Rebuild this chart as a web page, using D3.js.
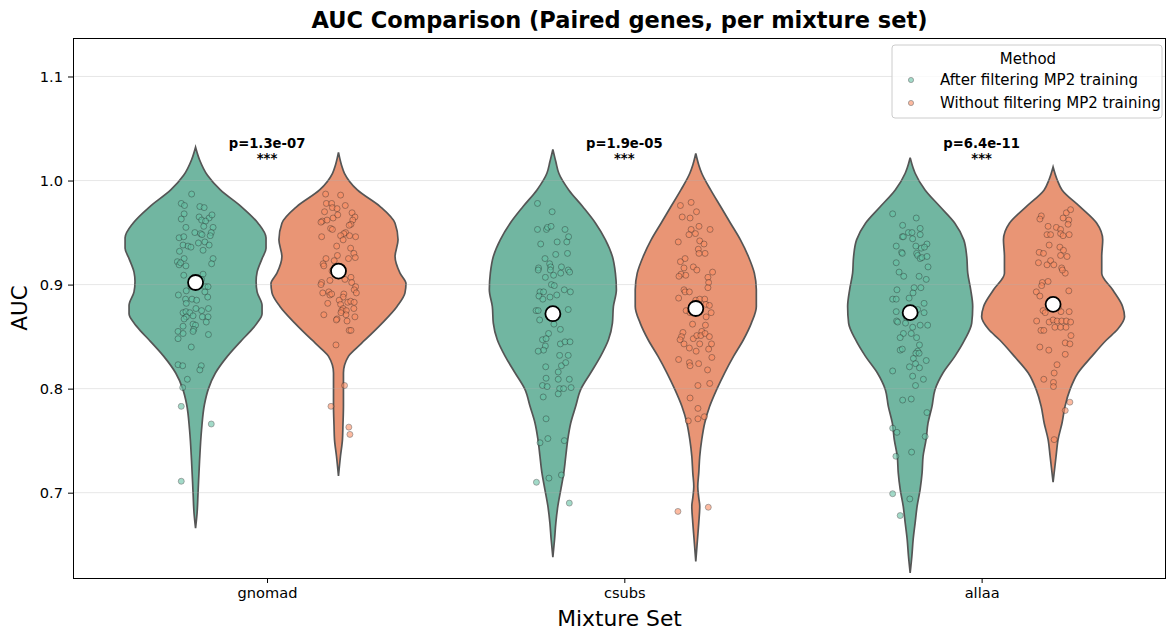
<!DOCTYPE html>
<html lang="en">
<head>
<meta charset="UTF-8">
<title>AUC Comparison</title>
<script src="https://d3js.org/d3.v7.min.js"></script>
<style>
    body { margin: 0; background: #fff; }
    svg { font-family: "DejaVu Sans", sans-serif; }
</style>
</head>
<body>
<script>
// categories, methods and labels
const categories = ["gnomad", "csubs", "allaa"];
const methods = ["After filtering MP2 training", "Without filtering MP2 training"];
const pLabels = ["p=1.3e-07", "p=1.9e-05", "p=6.4e-11"];
const sigStars = ["***", "***", "***"];
const yTicks = [0.7, 0.8, 0.9, 1.0, 1.1];

// white markers (median AUC)
const medianAfter = [0.902, 0.872, 0.873];
const medianWithout = [0.913, 0.877, 0.881];

// violin density profiles: [AUC, relative density]
const profGnomadAfter = [[1.032,0],[1.02,4],[1.005,12],[0.991,25],[0.975,46],[0.959,63],[0.945,71],[0.935,71],[0.925,67],[0.912,62],[0.903,61],[0.893,62],[0.88,67],[0.872,67],[0.863,62],[0.855,55],[0.847,47],[0.831,32],[0.815,20],[0.80,13],[0.785,9],[0.76,6],[0.73,4],[0.70,2.5],[0.68,1.5],[0.666,0]];
const profGnomadWithout = [[1.027,0],[1.015,3],[1.007,6],[0.991,19],[0.975,42],[0.959,57],[0.943,60],[0.927,57],[0.911,62],[0.901,68],[0.892,67],[0.879,59],[0.863,44],[0.847,27],[0.838,17],[0.831,10],[0.815,5],[0.80,5],[0.783,5],[0.765,4.5],[0.751,4],[0.735,2],[0.716,0]];
const profCsubsAfter = [[1.030,0],[1.018,3],[1.007,6],[0.991,16],[0.975,30],[0.959,43],[0.943,53],[0.927,60],[0.911,63],[0.895,64],[0.879,61],[0.863,60],[0.847,56],[0.831,48],[0.815,38],[0.799,28],[0.783,23],[0.767,18],[0.751,15],[0.735,13],[0.719,11],[0.703,8],[0.687,5],[0.671,3],[0.655,1.7],[0.638,0]];
const profCsubsWithout = [[1.026,0],[1.015,3],[1.007,6],[0.991,15],[0.975,25],[0.959,35],[0.943,45],[0.927,53],[0.911,59],[0.895,61],[0.879,61],[0.863,56],[0.847,48],[0.831,38],[0.815,29],[0.799,21],[0.783,14],[0.767,9],[0.751,6],[0.735,4],[0.719,3],[0.706,2],[0.695,3],[0.687,4],[0.671,3],[0.655,1.7],[0.634,0]];
const profAllaaAfter = [[1.022,0],[1.012,3],[1.007,5],[0.991,15],[0.975,30],[0.959,45],[0.943,54],[0.927,57],[0.911,58],[0.895,61],[0.879,63],[0.863,62],[0.847,55],[0.831,45],[0.815,33],[0.799,25],[0.783,22],[0.767,18],[0.751,16],[0.735,13],[0.719,12],[0.703,10],[0.687,7],[0.671,5],[0.655,3],[0.639,1.7],[0.623,0]];
const profAllaaWithout = [[1.013,0],[1.001,4],[0.991,9],[0.975,27],[0.959,44],[0.943,50],[0.927,49],[0.911,49],[0.895,60],[0.879,70],[0.869,72],[0.857,65],[0.847,54],[0.831,39],[0.815,25],[0.799,17],[0.783,12],[0.767,9],[0.751,5],[0.735,3],[0.710,0]];

// gene points: [jitter, AUC]
const ptsGnomadAfter = [[-0.011,0.987],[-0.040,0.978],[-0.031,0.976],[0.012,0.975],[0.024,0.974],[-0.032,0.968],[-0.040,0.963],[0.010,0.965],[0.038,0.964],[0.046,0.967],[0.017,0.962],[0.028,0.961],[0.023,0.956],[0.049,0.955],[-0.027,0.955],[-0.002,0.950],[0.014,0.949],[0.018,0.948],[0.044,0.950],[0.041,0.947],[-0.046,0.945],[-0.033,0.946],[0.008,0.940],[0.026,0.941],[0.038,0.938],[-0.035,0.938],[-0.021,0.937],[-0.013,0.936],[0.021,0.933],[-0.045,0.932],[-0.032,0.925],[-0.051,0.922],[-0.046,0.919],[-0.027,0.918],[-0.042,0.921],[0.049,0.925],[0.045,0.920],[-0.033,0.909],[0.021,0.910],[0.017,0.905],[-0.048,0.890],[-0.026,0.894],[-0.013,0.898],[0.027,0.898],[0.035,0.898],[0.026,0.893],[0.034,0.888],[-0.010,0.886],[-0.028,0.886],[-0.026,0.882],[0.003,0.885],[0.001,0.877],[0.036,0.877],[0.017,0.875],[-0.035,0.873],[-0.027,0.874],[-0.016,0.873],[-0.026,0.869],[-0.032,0.867],[-0.007,0.870],[0.019,0.869],[0.035,0.869],[0.030,0.864],[-0.007,0.862],[0,0.861],[-0.035,0.860],[-0.005,0.857],[-0.007,0.855],[-0.049,0.855],[-0.035,0.853],[-0.049,0.848],[0.036,0.852],[-0.012,0.840],[-0.049,0.823],[-0.036,0.822],[0.016,0.822],[0.012,0.818],[-0.023,0.809],[-0.036,0.801],[-0.040,0.783],[0.044,0.766],[-0.040,0.711]];
const ptsGnomadWithout = [[-0.036,0.987],[0.006,0.986],[-0.034,0.978],[-0.019,0.978],[0.019,0.976],[-0.017,0.974],[-0.004,0.973],[-0.039,0.970],[0.038,0.969],[-0.015,0.964],[-0.002,0.967],[-0.045,0.961],[-0.032,0.962],[-0.049,0.960],[0.046,0.965],[0.040,0.962],[0.035,0.958],[0.030,0.957],[-0.022,0.954],[-0.017,0.953],[0.020,0.950],[0.015,0.949],[0.006,0.947],[-0.047,0.946],[0.031,0.947],[0.048,0.946],[0.013,0.943],[-0.005,0.937],[0.034,0.935],[0.043,0.930],[0.047,0.926],[0.028,0.925],[-0.035,0.925],[-0.043,0.920],[-0.041,0.918],[-0.003,0.928],[-0.012,0.923],[-0.018,0.913],[0.006,0.914],[0.035,0.907],[0.018,0.905],[-0.047,0.902],[-0.049,0.900],[-0.024,0.904],[0.037,0.902],[0.048,0.898],[0.044,0.895],[0.050,0.892],[-0.044,0.892],[-0.027,0.893],[-0.024,0.890],[-0.019,0.891],[0.015,0.891],[0.013,0.888],[0.002,0.885],[0.026,0.883],[0.034,0.884],[0.044,0.883],[-0.030,0.882],[0.006,0.881],[0.013,0.877],[0.009,0.875],[0.022,0.875],[0.043,0.877],[-0.041,0.871],[0.021,0.871],[0.007,0.873],[0.046,0.869],[-0.004,0.867],[0.024,0.865],[-0.006,0.866],[0.030,0.856],[0.035,0.856],[-0.007,0.842],[0.017,0.803],[-0.021,0.783],[0.029,0.763],[0.032,0.756]];
const ptsCsubsAfter = [[-0.043,0.978],[-0.002,0.970],[-0.043,0.953],[-0.018,0.953],[-0.015,0.955],[-0.005,0.956],[0.034,0.953],[0.044,0.946],[0.012,0.941],[0.039,0.941],[-0.034,0.939],[-0.022,0.925],[0.008,0.929],[0.041,0.930],[-0.009,0.920],[-0.006,0.917],[0.024,0.917],[-0.040,0.916],[-0.041,0.914],[-0.007,0.914],[0.002,0.909],[0.022,0.911],[0.043,0.914],[0.047,0.912],[-0.021,0.907],[-0.004,0.900],[0.004,0.899],[0.032,0.895],[0.049,0.893],[-0.036,0.893],[-0.026,0.893],[-0.039,0.889],[-0.028,0.886],[-0.008,0.888],[0.011,0.890],[-0.047,0.875],[-0.041,0.875],[-0.037,0.866],[-0.010,0.873],[0.014,0.871],[0.003,0.862],[0.021,0.857],[0.043,0.876],[-0.012,0.853],[-0.029,0.847],[-0.019,0.848],[-0.021,0.841],[-0.026,0.837],[-0.041,0.836],[0.021,0.843],[0.034,0.845],[0.048,0.845],[0.019,0.832],[0.043,0.832],[0.024,0.822],[0.036,0.825],[-0.020,0.821],[0.015,0.816],[-0.019,0.810],[0.046,0.809],[0.015,0.809],[-0.029,0.803],[-0.016,0.802],[0.019,0.800],[0.030,0.800],[0.051,0.801],[0.015,0.795],[-0.027,0.792],[-0.019,0.771],[-0.036,0.748],[-0.014,0.752],[0.032,0.750],[-0.046,0.710],[-0.011,0.714],[0.024,0.717],[0.046,0.690]];
const ptsCsubsWithout = [[-0.043,0.976],[-0.013,0.979],[0.002,0.970],[-0.038,0.965],[-0.016,0.964],[0.009,0.956],[0.040,0.953],[-0.013,0.953],[-0.019,0.948],[-0.001,0.949],[0.011,0.942],[0.023,0.939],[-0.049,0.941],[0.007,0.934],[0.026,0.930],[0.009,0.930],[-0.030,0.925],[-0.043,0.922],[-0.007,0.917],[0.003,0.914],[-0.033,0.916],[0.047,0.912],[-0.041,0.910],[-0.047,0.908],[-0.028,0.909],[0.034,0.907],[0.036,0.902],[0.034,0.897],[-0.033,0.895],[-0.030,0.893],[-0.048,0.887],[-0.018,0.893],[0,0.885],[0.011,0.886],[0.025,0.886],[0.028,0.881],[0.038,0.880],[0.043,0.873],[-0.027,0.875],[-0.016,0.873],[0.029,0.869],[-0.009,0.862],[0.027,0.861],[0.017,0.855],[-0.036,0.854],[-0.040,0.850],[-0.044,0.847],[-0.033,0.843],[-0.007,0.848],[0.003,0.851],[0.014,0.851],[0.026,0.853],[0.038,0.850],[0.044,0.843],[-0.018,0.839],[0.001,0.836],[0.011,0.843],[0.036,0.838],[0.045,0.830],[-0.048,0.828],[-0.018,0.825],[0.008,0.824],[-0.016,0.822],[0.033,0.818],[0.039,0.805],[0.006,0.803],[-0.016,0.791],[0.006,0.781],[0.024,0.773],[0.006,0.771],[-0.021,0.769],[-0.050,0.682],[0.035,0.686]];
const ptsAllaaAfter = [[-0.049,0.968],[0.017,0.964],[-0.021,0.957],[0.028,0.954],[-0.005,0.950],[0.005,0.950],[-0.022,0.946],[-0.019,0.946],[0.007,0.944],[0.028,0.948],[-0.039,0.937],[-0.024,0.931],[-0.022,0.930],[0.016,0.937],[0.031,0.935],[0.047,0.939],[0.040,0.936],[0.018,0.930],[0.021,0.928],[0.028,0.925],[0.033,0.926],[0.047,0.927],[-0.039,0.921],[-0.031,0.912],[-0.018,0.908],[0.025,0.908],[0.050,0.917],[0.045,0.905],[0.011,0.897],[0.030,0.897],[0.008,0.892],[-0.003,0.887],[-0.037,0.895],[-0.049,0.886],[-0.039,0.886],[0.039,0.882],[-0.039,0.874],[0.021,0.876],[0.039,0.873],[-0.038,0.865],[-0.035,0.864],[-0.010,0.868],[-0.013,0.863],[0.028,0.861],[0.049,0.861],[0.007,0.859],[-0.019,0.853],[0.003,0.853],[0.018,0.849],[-0.028,0.849],[0.026,0.842],[0.021,0.836],[0.016,0.834],[0.025,0.834],[-0.028,0.837],[-0.022,0.838],[0.009,0.829],[0.045,0.827],[0.015,0.824],[-0.002,0.821],[0.026,0.820],[-0.049,0.817],[0.007,0.812],[0.037,0.809],[0.015,0.803],[-0.021,0.789],[0.003,0.790],[0.047,0.777],[-0.049,0.762],[-0.037,0.758],[0.042,0.754],[0.004,0.739],[-0.040,0.735],[-0.049,0.699],[-0.001,0.694],[-0.028,0.678]];
const ptsAllaaWithout = [[-0.033,0.966],[-0.037,0.963],[0.037,0.969],[0.049,0.972],[0.028,0.964],[0.044,0.962],[0.042,0.958],[-0.014,0.956],[0.009,0.955],[0.021,0.953],[-0.017,0.948],[-0.007,0.948],[0.021,0.949],[0.028,0.947],[0.045,0.948],[-0.011,0.938],[0.019,0.936],[0.029,0.933],[-0.039,0.931],[-0.027,0.930],[0.021,0.928],[0.039,0.927],[-0.041,0.921],[-0.017,0.919],[-0.007,0.923],[0.002,0.919],[0.024,0.916],[0.034,0.911],[0.026,0.914],[-0.030,0.902],[-0.014,0.903],[-0.032,0.899],[-0.047,0.893],[-0.037,0.889],[0.044,0.894],[-0.009,0.882],[0,0.881],[0.007,0.879],[0.015,0.878],[-0.028,0.875],[-0.022,0.873],[0.022,0.874],[0.045,0.874],[-0.046,0.865],[-0.011,0.864],[0,0.866],[0.011,0.865],[0.024,0.865],[0.037,0.865],[0.049,0.864],[-0.034,0.856],[-0.026,0.856],[0.005,0.859],[0.021,0.859],[0.036,0.859],[0.050,0.851],[0.034,0.844],[0.047,0.843],[-0.037,0.840],[-0.012,0.837],[0.034,0.833],[0.011,0.823],[0.003,0.815],[-0.026,0.809],[0.001,0.806],[0.001,0.802],[0.047,0.787],[0.034,0.779],[0.003,0.751]];

// assemble the six violins
const violins = [
    {cat: 0, m: 0, prof: profGnomadAfter,  pts: ptsGnomadAfter,  med: medianAfter[0]},
    {cat: 0, m: 1, prof: profGnomadWithout, pts: ptsGnomadWithout, med: medianWithout[0]},
    {cat: 1, m: 0, prof: profCsubsAfter,   pts: ptsCsubsAfter,   med: medianAfter[1]},
    {cat: 1, m: 1, prof: profCsubsWithout, pts: ptsCsubsWithout, med: medianWithout[1]},
    {cat: 2, m: 0, prof: profAllaaAfter,   pts: ptsAllaaAfter,   med: medianAfter[2]},
    {cat: 2, m: 1, prof: profAllaaWithout, pts: ptsAllaaWithout, med: medianWithout[2]}
];

const violinFill = ["#71b6a1", "#e99575"];
const pointFill = ["#66c2a5", "#fc8d62"];
const dodge = [-0.2, 0.2];
const font = "'DejaVu Sans', sans-serif";

const W = 1167, H = 632;
const plot = {left: 73, right: 1166, top: 38, bottom: 578};

const svg = d3.select("body").append("svg")
    .attr("width", W)
    .attr("height", H);

const x = d3.scaleLinear().domain([-0.543, 2.516]).range([plot.left, plot.right]);
const y = d3.scaleLinear().domain([0.618, 1.137]).range([plot.bottom, plot.top]);
const wScale = d3.scaleLinear().domain([0, 72]).range([0, 0.2]);

svg.append("clipPath").attr("id", "clip")
    .append("rect")
    .attr("x", plot.left).attr("y", plot.top)
    .attr("width", plot.right - plot.left).attr("height", plot.bottom - plot.top);

const g = svg.append("g").attr("clip-path", "url(#clip)");

// violins
const area = d3.area()
    .curve(d3.curveMonotoneY)
    .y(d => y(d[0]));

violins.forEach(v => {
    const c = v.cat + dodge[v.m];
    g.append("path")
        .datum(v.prof)
        .attr("d", area.x0(d => x(c - wScale(d[1]))).x1(d => x(c + wScale(d[1]))))
        .attr("fill", violinFill[v.m])
        .attr("stroke", "#555")
        .attr("stroke-width", 1.7);
});

// y grid (drawn over the violins, faint)
g.selectAll(".grid")
    .data(yTicks)
    .enter()
    .append("line")
    .attr("x1", plot.left).attr("x2", plot.right)
    .attr("y1", d => y(d)).attr("y2", d => y(d))
    .attr("stroke", "#b0b0b0")
    .attr("stroke-opacity", 0.3)
    .attr("stroke-width", 1);

// points
violins.forEach(v => {
    const c = v.cat + dodge[v.m];
    g.selectAll(null)
        .data(v.pts)
        .enter()
        .append("circle")
        .attr("cx", d => x(c + d[0]))
        .attr("cy", d => y(d[1]))
        .attr("r", 3)
        .attr("fill", pointFill[v.m])
        .attr("stroke", "#222")
        .attr("stroke-width", 0.6)
        .attr("opacity", 0.6);
});

// median markers
violins.forEach(v => {
    g.append("circle")
        .attr("cx", x(v.cat + dodge[v.m]))
        .attr("cy", y(v.med))
        .attr("r", 7.5)
        .attr("fill", "#fff")
        .attr("stroke", "#000")
        .attr("stroke-width", 1.8);
});

// p-value annotations
categories.forEach((c, i) => {
    svg.append("text")
        .attr("x", x(i)).attr("y", 148)
        .attr("text-anchor", "middle")
        .attr("font-size", 13.2).attr("font-weight", "bold")
        .text(pLabels[i]);
    svg.append("text")
        .attr("x", x(i)).attr("y", 163)
        .attr("text-anchor", "middle")
        .attr("font-size", 13.2).attr("font-weight", "bold")
        .text(sigStars[i]);
});

// axes
svg.append("g")
    .attr("transform", `translate(0,${plot.bottom})`)
    .call(d3.axisBottom(x).tickValues([0, 1, 2]).tickFormat(i => categories[i]).tickSizeOuter(0).tickSize(5).tickPadding(5))
    .call(a => a.select(".domain").remove())
    .attr("font-size", 14.6).attr("font-family", font);

svg.append("g")
    .attr("transform", `translate(${plot.left},0)`)
    .call(d3.axisLeft(y).tickValues(yTicks).tickFormat(d3.format(".1f")).tickSize(5).tickPadding(5))
    .call(a => a.select(".domain").remove())
    .attr("font-size", 14.6).attr("font-family", font);

svg.selectAll(".tick text").attr("fill", "#000");
svg.selectAll(".tick line").attr("stroke", "#000");

svg.append("rect")
    .attr("x", plot.left + 0.5).attr("y", plot.top + 0.5)
    .attr("width", plot.right - plot.left - 1).attr("height", plot.bottom - plot.top)
    .attr("fill", "none").attr("stroke", "#000").attr("stroke-width", 1);

// titles
svg.append("text")
    .attr("x", (plot.left + plot.right) / 2).attr("y", 28)
    .attr("text-anchor", "middle")
    .attr("font-size", 22.5).attr("font-weight", "bold")
    .text("AUC Comparison (Paired genes, per mixture set)");

svg.append("text")
    .attr("x", (plot.left + plot.right) / 2).attr("y", 626)
    .attr("text-anchor", "middle")
    .attr("font-size", 21.8)
    .text("Mixture Set");

svg.append("text")
    .attr("transform", `translate(27,${(plot.top + plot.bottom) / 2}) rotate(-90)`)
    .attr("text-anchor", "middle")
    .attr("font-size", 21.5)
    .text("AUC");

// legend
const leg = svg.append("g").attr("transform", "translate(892,45)");
leg.append("rect")
    .attr("width", 270).attr("height", 73).attr("rx", 3)
    .attr("fill", "#fff").attr("fill-opacity", 0.8)
    .attr("stroke", "#ccc");
leg.append("text")
    .attr("x", 136).attr("y", 19)
    .attr("text-anchor", "middle").attr("font-size", 15)
    .text("Method");
methods.forEach((m, i) => {
    leg.append("circle")
        .attr("cx", 19).attr("cy", 35 + i * 23)
        .attr("r", 2.6)
        .attr("fill", pointFill[i]).attr("stroke", "#222")
        .attr("stroke-width", 0.6).attr("opacity", 0.6);
    leg.append("text")
        .attr("x", 48).attr("y", 40 + i * 23)
        .attr("font-size", 15)
        .text(m);
});
</script>
</body>
</html>
